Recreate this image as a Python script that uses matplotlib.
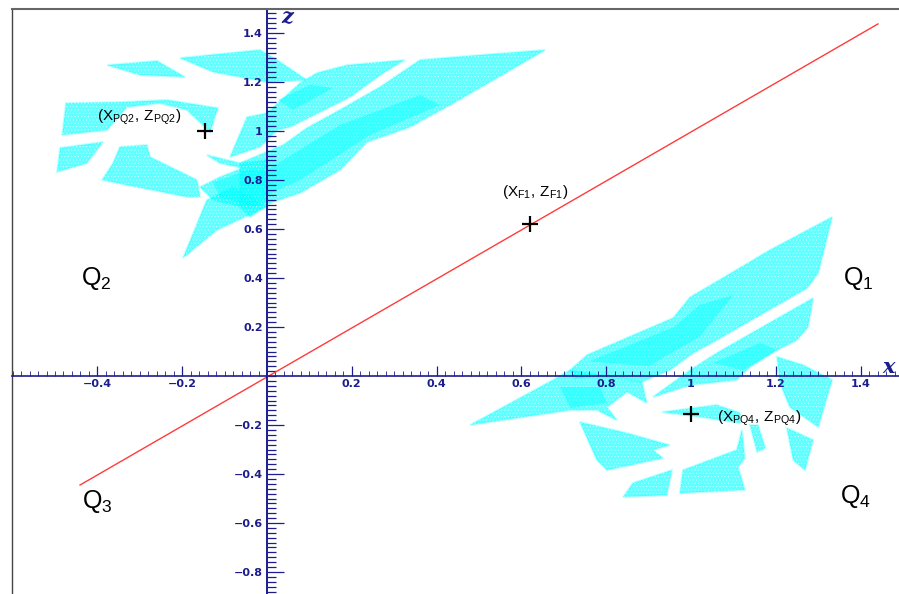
import numpy as np
import matplotlib
matplotlib.use('Agg')
import matplotlib.pyplot as plt
from matplotlib.ticker import FixedLocator, FixedFormatter

plt.rcParams['font.family'] = ['Liberation Sans', 'DejaVu Sans']
plt.rcParams['mathtext.fontset'] = 'custom'
plt.rcParams['mathtext.rm'] = 'Liberation Sans'
plt.rcParams['hatch.linewidth'] = 0.4

# point clouds, outlines as (x, z)
# quadrant 2
q2_flake_a = [(-0.377, 1.269), (-0.259, 1.286), (-0.193, 1.220), (-0.300, 1.229)]
q2_flake_b = [(-0.205, 1.298), (-0.017, 1.331), (0.024, 1.290), (0.094, 1.208), (0.0, 1.2), (-0.127, 1.241)]
q2_block = [(-0.474, 1.114), (-0.340, 1.118), (-0.236, 1.127), (-0.116, 1.094), (-0.134, 0.996),
            (-0.189, 1.086), (-0.252, 1.114), (-0.330, 1.098), (-0.377, 1.004), (-0.483, 0.984)]
q2_left = [(-0.488, 0.931), (-0.387, 0.955), (-0.425, 0.869), (-0.495, 0.833)]
q2_middle = [(-0.347, 0.935), (-0.283, 0.943), (-0.276, 0.894), (-0.165, 0.8), (-0.158, 0.731),
             (-0.189, 0.731), (-0.389, 0.8), (-0.363, 0.869)]
q2_spike = [(-0.198, 0.482), (-0.142, 0.718), (-0.08, 0.771), (0.0, 0.69), (-0.033, 0.665), (-0.118, 0.596)]
q2_strip = [(-0.142, 0.902), (-0.064, 0.869), (0.0, 0.882), (0.0, 0.706), (-0.047, 0.686), (-0.127, 0.718),
            (-0.158, 0.771), (-0.111, 0.812), (-0.057, 0.849), (-0.111, 0.869)]
q2_band = [(-0.064, 0.869), (0.038, 0.943), (0.094, 1.012), (0.172, 1.086), (0.267, 1.180), (0.361, 1.290),
           (0.472, 1.306), (0.656, 1.331), (0.542, 1.216), (0.432, 1.106), (0.337, 1.016), (0.236, 0.955),
           (0.172, 0.841), (0.078, 0.747), (0.007, 0.706), (-0.040, 0.649), (-0.064, 0.690)]
q2_upper = [(-0.087, 0.894), (-0.047, 1.057), (0.0, 1.073), (0.078, 1.196), (0.118, 1.237), (0.189, 1.269),
            (0.325, 1.290), (0.274, 1.237), (0.196, 1.139), (0.054, 1.016), (0.024, 1.004), (-0.017, 0.935)]

# quadrants 1 and 4
q1_band = [(0.715, 0.024), (0.755, 0.086), (0.958, 0.237), (0.998, 0.322), (1.075, 0.4), (1.186, 0.514),
           (1.333, 0.649), (1.3, 0.42), (1.274, 0.359), (1.163, 0.249), (1.061, 0.147), (1.005, 0.094),
           (0.950, 0.024), (0.884, -0.024), (0.809, 0.0), (0.726, -0.008)]
q4_tail = [(0.479, -0.2), (0.675, -0.016), (0.715, 0.024), (0.884, -0.024), (0.896, -0.11), (0.849, -0.065),
           (0.802, -0.127), (0.825, -0.18), (0.778, -0.139), (0.715, -0.139)]
q1_second = [(0.910, -0.086), (0.998, 0.024), (1.061, 0.094), (1.156, 0.188), (1.288, 0.318), (1.276, 0.2),
             (1.25, 0.147), (1.203, 0.106), (1.139, 0.037), (1.108, -0.016), (0.998, -0.037)]
q4_right = [(1.203, 0.078), (1.264, 0.045), (1.333, -0.016), (1.3, -0.208), (1.233, -0.127), (1.21, -0.029)]
q4_small = [(1.226, -0.212), (1.288, -0.261), (1.269, -0.384), (1.241, -0.343)]
q4_cross = [(0.932, -0.147), (1.061, -0.118), (1.116, -0.151), (1.116, -0.192), (1.021, -0.167)]
q4_lower = [(0.738, -0.188), (0.849, -0.233), (0.950, -0.282), (0.910, -0.302), (0.934, -0.335),
            (0.802, -0.384), (0.778, -0.343)]
q4_foot = [(0.840, -0.494), (0.863, -0.437), (0.955, -0.384), (0.943, -0.486)]
q4_block = [(0.974, -0.478), (0.981, -0.384), (1.108, -0.302), (1.120, -0.220), (1.127, -0.335),
            (1.111, -0.371), (1.127, -0.465)]
q4_thin = [(1.139, -0.2), (1.158, -0.2), (1.175, -0.294), (1.156, -0.31)]

# denser parts of the clouds
core_upper = [(0.026, 1.127), (0.101, 1.188), (0.156, 1.176), (0.061, 1.086)]
core_band = [(0.0, 0.841), (0.172, 1.024), (0.361, 1.147), (0.408, 1.106), (0.243, 0.984), (0.078, 0.8), (0.0, 0.739)]
core_strip = [(-0.127, 0.79), (-0.047, 0.84), (0.0, 0.84), (0.0, 0.72), (-0.047, 0.7), (-0.11, 0.73)]
core_tail = [(0.691, -0.045), (0.785, -0.045), (0.802, -0.11), (0.715, -0.131)]
core_second = [(1.052, 0.053), (1.163, 0.135), (1.203, 0.106), (1.123, 0.024)]
core_q1 = [(0.76, 0.06), (0.96, 0.2), (1.02, 0.29), (1.1, 0.33), (1.02, 0.16), (0.9, 0.04)]

clouds = [q2_flake_a, q2_flake_b, q2_block, q2_left, q2_middle, q2_spike, q2_strip, q2_band, q2_upper,
          q1_band, q4_tail, q1_second, q4_right, q4_small, q4_cross, q4_lower, q4_foot, q4_block, q4_thin]
cores = [core_upper, core_band, core_strip, core_tail, core_second, core_q1]

# fuzzy line and the three marked points
line_x = [-0.441, 1.441]
line_z = [-0.445, 1.437]
mark_x = [-0.146, 0.62, 1.0]
mark_z = [1.0, 0.62, -0.155]

x_major = [-0.4, -0.2, 0.2, 0.4, 0.6, 0.8, 1.0, 1.2, 1.4]
x_labels = ['\u22120.4', '\u22120.2', '0.2', '0.4', '0.6', '0.8', '1', '1.2', '1.4']
z_major = [1.4, 1.2, 1.0, 0.8, 0.6, 0.4, 0.2, -0.2, -0.4, -0.6, -0.8]
z_labels = ['1.4', '1.2', '1', '0.8', '0.6', '0.4', '0.2', '\u22120.2', '\u22120.4', '\u22120.6', '\u22120.8']

NAVY = '#1c1c8e'
GREY = '#666666'
CYAN = '#00ffff'

fig = plt.figure(figsize=(8.99, 5.94), dpi=100)
ax = fig.add_axes([12 / 899, 0, 887 / 899, 585 / 594])
ax.set_xlim(-0.6014, 1.4906)
ax.set_ylim(-0.8898, 1.498)

for poly in clouds:
    xs, zs = zip(*poly)
    # thin soft rim so the edge of a cloud is not a hard line
    ax.fill(xs, zs, facecolor='none', edgecolor=CYAN, linewidth=1.6, alpha=0.22, zorder=1)
    ax.fill(xs, zs, facecolor=CYAN, edgecolor='white', hatch='.....', linewidth=0, alpha=0.62, zorder=1)
for poly in cores:
    xs, zs = zip(*poly)
    ax.fill(xs, zs, facecolor=CYAN, linewidth=0, alpha=0.45, zorder=1.5)

ax.plot(line_x, line_z, color='#ff3b3b', lw=1.0, zorder=2)
ax.plot(mark_x, mark_z, '+', color='black', ms=11, mew=1.6, zorder=4)

# axes cross at zero, grey frame on top and left
ax.spines['right'].set_visible(False)
ax.spines['top'].set_color(GREY)
ax.spines['top'].set_linewidth(1.5)
ax.spines['left'].set_position(('data', 0))
ax.spines['bottom'].set_position(('data', 0))
ax.spines['left'].set_color(NAVY)
ax.spines['bottom'].set_color(NAVY)
ax.spines['left'].set_linewidth(1.4)
ax.spines['bottom'].set_linewidth(1.2)
ax.plot([0, 0], [0, 1], transform=ax.transAxes, color='#444444', lw=1.0, clip_on=False)

ax.xaxis.set_major_locator(FixedLocator(x_major))
ax.xaxis.set_major_formatter(FixedFormatter(x_labels))
ax.xaxis.set_minor_locator(FixedLocator(np.arange(-0.6, 1.49, 0.02)))
ax.yaxis.set_major_locator(FixedLocator(z_major))
ax.yaxis.set_major_formatter(FixedFormatter(z_labels))
ax.yaxis.set_minor_locator(FixedLocator(np.arange(-0.88, 1.49, 0.02)))
ax.tick_params(axis='x', which='major', direction='in', length=7, width=0.9, color=NAVY, labelcolor=NAVY, pad=2.5)
ax.tick_params(axis='x', which='minor', direction='in', length=3.5, width=0.6, color=NAVY)
ax.tick_params(axis='y', which='major', direction='in', length=12.5, width=0.9, color=NAVY, labelcolor=NAVY, pad=3)
ax.tick_params(axis='y', which='minor', direction='in', length=6.5, width=0.9, color=NAVY)
for lab in ax.get_xticklabels() + ax.get_yticklabels():
    lab.set_fontfamily('DejaVu Sans')
    lab.set_fontweight('bold')
    lab.set_fontsize(8)

ax.text(1.466, 0.036, 'x', color=NAVY, family='DejaVu Serif', style='italic', weight='bold',
        fontsize=15, ha='center', va='center')
ax.text(0.047, 1.465, 'z', color=NAVY, family='DejaVu Serif', style='italic', weight='bold',
        fontsize=15, ha='center', va='center')

ax.text(-0.403, 0.396, r'$\mathrm{Q_2}$', fontsize=18, ha='center', va='center')
ax.text(1.394, 0.396, r'$\mathrm{Q_1}$', fontsize=18, ha='center', va='center')
ax.text(-0.401, -0.514, r'$\mathrm{Q_3}$', fontsize=18, ha='center', va='center')
ax.text(1.387, -0.49, r'$\mathrm{Q_4}$', fontsize=18, ha='center', va='center')
ax.text(-0.302, 1.057, r'$\mathrm{(X_{PQ2},\,Z_{PQ2})}$', fontsize=11, ha='center', va='center', zorder=5)
ax.text(0.632, 0.751, r'$\mathrm{(X_{F1},\,Z_{F1})}$', fontsize=11, ha='center', va='center', zorder=5)
ax.text(1.160, -0.171, r'$\mathrm{(X_{PQ4},\,Z_{PQ4})}$', fontsize=11, ha='center', va='center', zorder=5)

fig.savefig('out.png', dpi=100)
